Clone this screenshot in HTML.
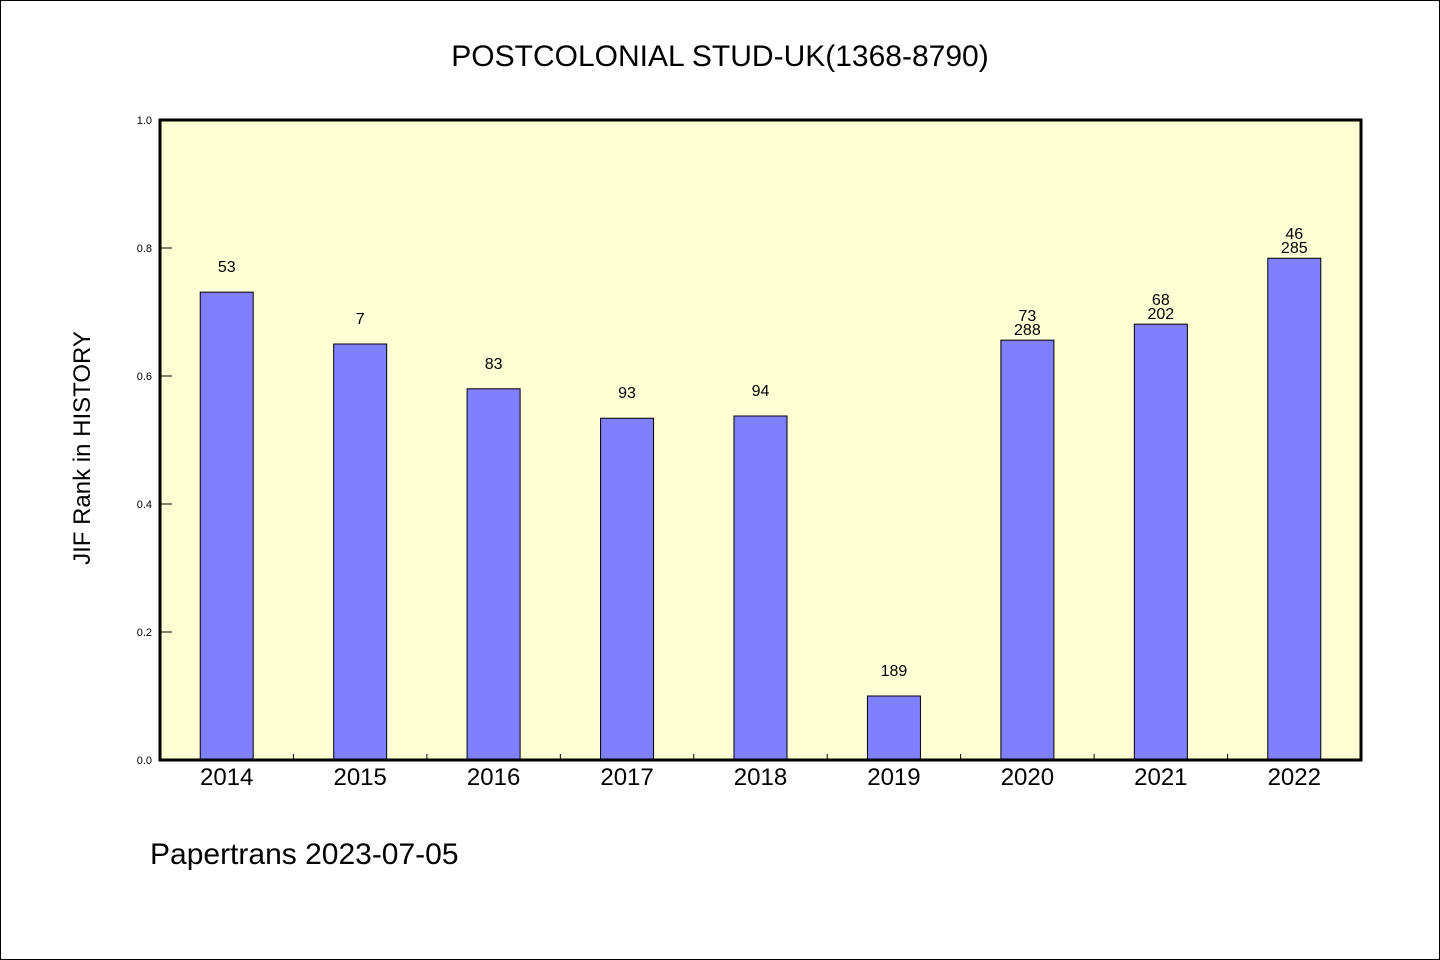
<!DOCTYPE html>
<html><head><meta charset="utf-8"><style>
html,body{margin:0;padding:0;background:#fff}
svg{display:block}
text{font-family:"WenQuanYi Zen Hei","Liberation Sans",sans-serif}
</style></head><body>
<svg id="chart" width="1440" height="960">
<rect x="0.5" y="0.5" width="1439" height="959" fill="#fff" stroke="#000"/>
<text x="720" y="66" text-anchor="middle" font-size="30">POSTCOLONIAL STUD-UK(1368-8790)</text>
<rect x="160" y="120" width="1201" height="640" fill="#ffffd5"/>
<g id="ticks"></g>
<g id="bars"></g>
<rect x="160" y="120" width="1201" height="640" fill="none" stroke="#000" stroke-width="3"/>
<text transform="translate(90,448) rotate(-90)" text-anchor="middle" font-size="24">JIF Rank in HISTORY</text>
<text x="150" y="864" font-size="30">Papertrans 2023-07-05</text>
</svg>
<script>
const categories=["2014","2015","2016","2017","2018","2019","2020","2021","2022"];
const values=[0.731,0.65,0.58,0.534,0.5375,0.1,0.656,0.681,0.784];
const labelTop=["","","","","","","73","68","46"];
const labelBottom=["53","7","83","93","94","189","288","202","285"];
const yTicks=[0,0.2,0.4,0.6,0.8,1.0];
const NS="http://www.w3.org/2000/svg";
const X0=160,X1=1361,Y0=760,Y1=120;
const step=(X1-X0)/categories.length;
const xc=i=>X0+step*(i+0.5);
const y=v=>Y0-(Y0-Y1)*v;
function mk(tag,attrs,parent,txt){const e=document.createElementNS(NS,tag);for(const k in attrs)e.setAttribute(k,attrs[k]);if(txt!==undefined)e.textContent=txt;parent.appendChild(e);return e;}
const tg=document.getElementById('ticks'),bg=document.getElementById('bars');
yTicks.forEach(t=>{
 const l=mk('line',{x1:X0,x2:X0+12,y1:y(t),y2:y(t),stroke:'#000','stroke-width':1},tg);
 
 
 const tx=mk('text',{x:X0-8,y:y(t)+4,'text-anchor':'end','font-size':11},tg,t.toFixed(1));
 
 
});
categories.forEach((c,i)=>{
 if(i>0){const l=mk('line',{x1:X0+step*i,x2:X0+step*i,y1:Y0,y2:Y0-6,stroke:'#000','stroke-width':1},tg);
 
 }
 const tx=mk('text',{x:xc(i),y:785,'text-anchor':'middle','font-size':24},tg,c);
 
 
 const w=53;
 const b=mk('rect',{x:xc(i)-w/2,y:y(values[i]),width:w,height:Y0-y(values[i]),fill:'#8080ff',stroke:'#000','stroke-width':1},bg);
 
 
 if(labelTop[i]){
  const a=mk('text',{x:xc(i),y:y(values[i])-5,'text-anchor':'middle','font-size':16},bg,labelBottom[i]);
  
  
  const t2=mk('text',{x:xc(i),y:y(values[i])-19,'text-anchor':'middle','font-size':16},bg,labelTop[i]);
  
  
 } else {
  const a=mk('text',{x:xc(i),y:y(values[i])-20,'text-anchor':'middle','font-size':16},bg,labelBottom[i]);
  
  
 }
});
</script>
</body></html>
